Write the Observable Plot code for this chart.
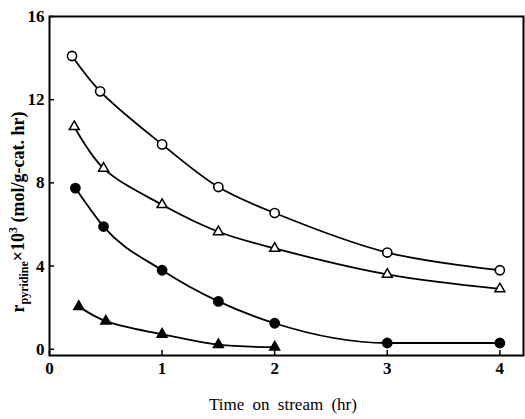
<!DOCTYPE html>
<html>
<head>
<meta charset="utf-8">
<script src="https://cdn.jsdelivr.net/npm/d3@7"></script>
<script src="https://cdn.jsdelivr.net/npm/@observablehq/plot@0.6"></script>
<style>
  html, body { margin: 0; padding: 0; background: #fff; }
  #chart svg { display: block; }
</style>
</head>
<body>
<div id="chart"></div>
<script>
// Pyridine formation rate vs. time on stream, four catalysts/conditions
const xTicks = [0, 1, 2, 3, 4];
const yTicks = [0, 4, 8, 12, 16];

const openCircleT = [0.2, 0.45, 1, 1.5, 2, 3, 4];
const openCircleR = [14.1, 12.4, 9.85, 7.8, 6.55, 4.65, 3.8];

const openTriT = [0.22, 0.48, 1, 1.5, 2, 3, 4];
const openTriR = [10.7, 8.7, 6.95, 5.65, 4.85, 3.6, 2.9];

const filledCircleT = [0.23, 0.48, 1, 1.5, 2, 3, 4];
const filledCircleR = [7.75, 5.9, 3.8, 2.3, 1.25, 0.3, 0.3];

const filledTriT = [0.26, 0.5, 1, 1.5, 2];
const filledTriR = [2.05, 1.35, 0.72, 0.22, 0.1];

const series = [
  {key: "oc", t: openCircleT, r: openCircleR, symbol: "circle", filled: false},
  {key: "ot", t: openTriT, r: openTriR, symbol: "triangle", filled: false},
  {key: "fc", t: filledCircleT, r: filledCircleR, symbol: "circle", filled: true},
  {key: "ft", t: filledTriT, r: filledTriR, symbol: "triangle", filled: true}
];

const rows = series.flatMap(s => s.t.map((t, i) => ({key: s.key, t, r: s.r[i], symbol: s.symbol, filled: s.filled})));
const circles = rows.filter(d => d.symbol === "circle");
const triangles = rows.filter(d => d.symbol === "triangle");
// the filled-circle curve levels off, so it gets a monotone interpolation
const levelling = rows.filter(d => d.key === "fc");
const others = rows.filter(d => d.key !== "fc");

const W = 525, H = 419;
const mL = 49, mR = 2, mT = 16, mB = 64;
const innerW = W - mL - mR, innerH = H - mT - mB;

const font = "'Liberation Serif', 'DejaVu Serif', serif";

const plot = Plot.plot({
  width: W,
  height: H,
  marginLeft: mL,
  marginRight: mR,
  marginTop: mT,
  marginBottom: mB,
  style: {fontFamily: font, fontSize: "17px", fontWeight: "bold", color: "#000", background: "#fff"},
  x: {domain: [0, 4.21]},
  y: {domain: [-0.3, 16]},
  marks: [
    Plot.frame({stroke: "#000", strokeWidth: 2}),
    // inward tick marks
    Plot.tickX(xTicks, {x: d => d, insetTop: innerH - 5, stroke: "#000", strokeWidth: 1.5}),
    Plot.tickY(yTicks, {y: d => d, insetRight: innerW - 5, stroke: "#000", strokeWidth: 1.5}),
    Plot.axisX(xTicks, {tickSize: 0, tickPadding: 6, label: null, fontSize: 17, fontWeight: "bold"}),
    Plot.axisY(yTicks, {tickSize: 0, tickPadding: 5, label: null, fontSize: 17, fontWeight: "bold"}),
    Plot.line(others, {x: "t", y: "r", z: "key", curve: "catmull-rom", stroke: "#000", strokeWidth: 1.8}),
    Plot.line(levelling, {x: "t", y: "r", curve: "monotone-x", stroke: "#000", strokeWidth: 1.8}),
    Plot.dot(circles, {
      x: "t", y: "r", symbol: "circle", r: 4.6,
      fill: d => d.filled ? "#000" : "#fff",
      stroke: "#000", strokeWidth: 1.6
    }),
    Plot.dot(triangles, {
      x: "t", y: "r", symbol: "triangle", r: 3.7,
      fill: d => d.filled ? "#000" : "#fff",
      stroke: "#000", strokeWidth: 1.5
    })
  ]
});

const svg = d3.select(plot);

// x-axis title
svg.append("text")
  .attr("x", 283).attr("y", 410)
  .attr("text-anchor", "middle")
  .style("font-family", font).style("font-size", "17px").style("font-weight", "normal")
  .style("word-spacing", "4px")
  .text("Time on stream (hr)");

// y-axis title with subscript and superscript
const yl = svg.append("text")
  .attr("transform", "translate(24,212) rotate(-90)")
  .attr("text-anchor", "middle")
  .style("font-family", font).style("font-size", "18px").style("font-weight", "bold");
yl.append("tspan").text("r");
yl.append("tspan").attr("dy", 4).style("font-size", "12px").text("pyridine");
yl.append("tspan").attr("dy", -4).text("\u00d710");
yl.append("tspan").attr("dy", -7).style("font-size", "12px").text("3");
yl.append("tspan").attr("dy", 7).text(" (mol/g-cat. hr)");

document.getElementById("chart").appendChild(plot);
</script>
</body>
</html>
